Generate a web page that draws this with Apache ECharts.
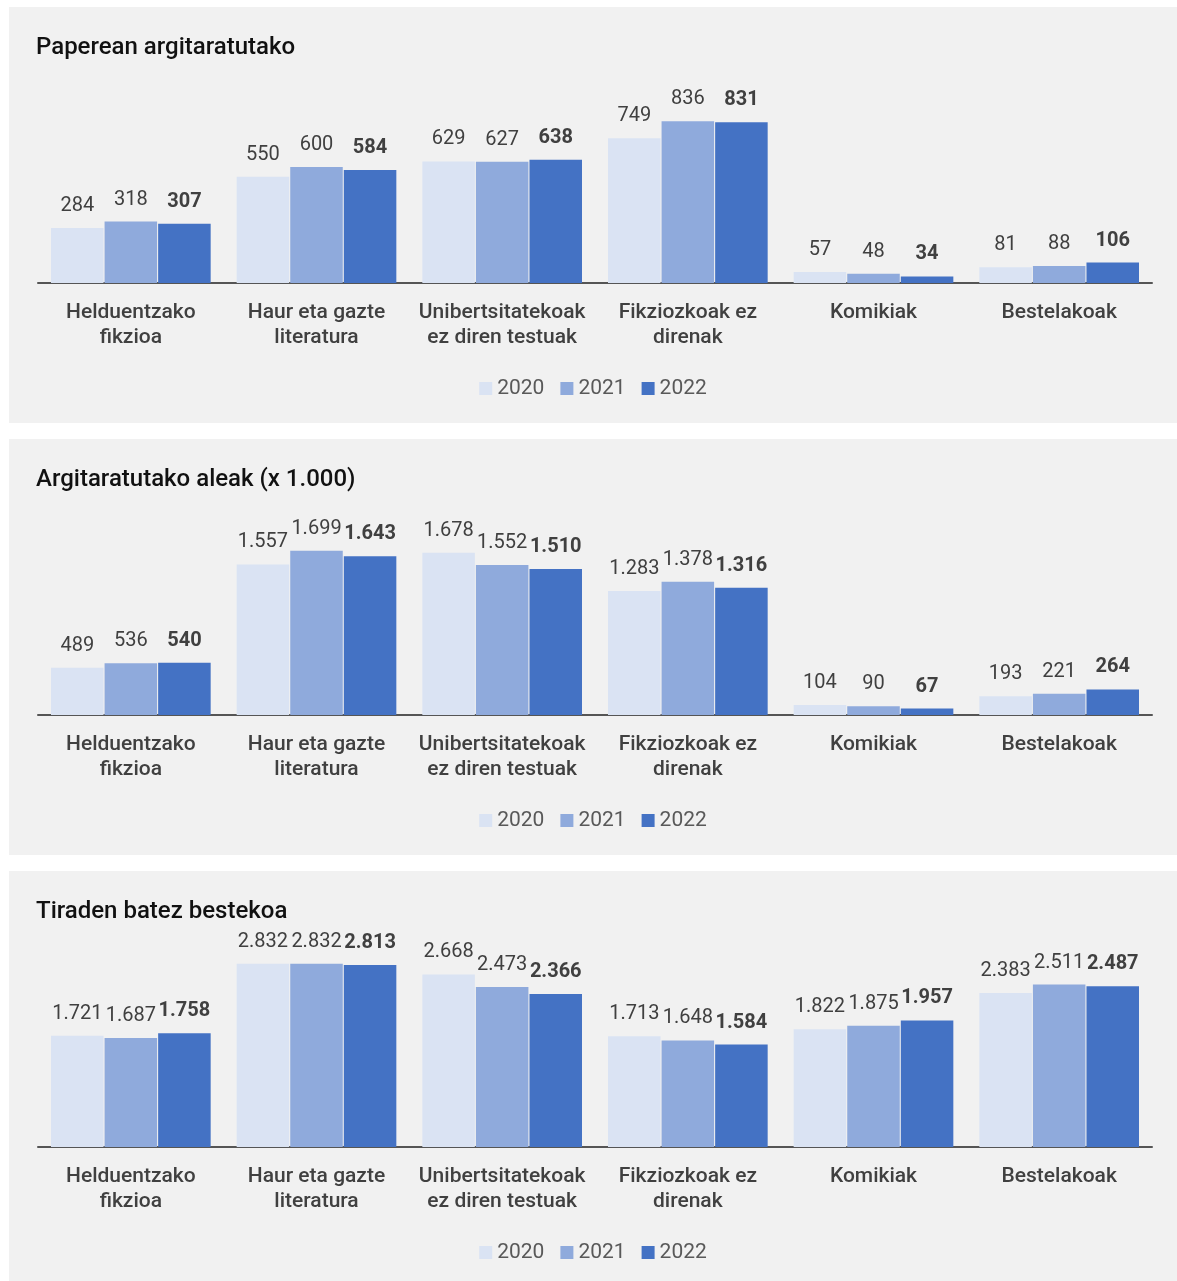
<!DOCTYPE html>
<html><head><meta charset="utf-8">
<script src="https://cdn.jsdelivr.net/npm/echarts@6/dist/echarts.min.js"></script>
<style>
html,body{margin:0;padding:0;background:#fff;width:1177px;height:1281px;overflow:hidden;font-family:Roboto,sans-serif;}
.p{position:absolute;left:9px;width:1168px;background:#f1f1f1;}
</style></head><body>
<div id="c1" class="p" style="top:7px;height:416px"></div>
<div id="c2" class="p" style="top:439px;height:416px"></div>
<div id="c3" class="p" style="top:871px;height:410px"></div>
<script>
const categories = ['Helduentzako\nfikzioa','Haur eta gazte\nliteratura','Unibertsitatekoak\nez diren testuak','Fikziozkoak ez\ndirenak','Komikiak','Bestelakoak'];
const years = ['2020','2021','2022'];
const titles = ['Paperean argitaratutako','Argitaratutako aleak (x 1.000)','Tiraden batez bestekoa'];
const paper2020 = [284,550,629,749,57,81];
const paper2021 = [318,600,627,836,48,88];
const paper2022 = [307,584,638,831,34,106];
const aleak2020 = [489,1557,1678,1283,104,193];
const aleak2021 = [536,1699,1552,1378,90,221];
const aleak2022 = [540,1643,1510,1316,67,264];
const tirada2020 = [1721,2832,2668,1713,1822,2383];
const tirada2021 = [1687,2832,2473,1648,1875,2511];
const tirada2022 = [1758,2813,2366,1584,1957,2487];
const colors = ['#dae3f3','#8faadc','#4472c4'];

function fmt(v){ return String(v).replace(/\B(?=(\d{3})+(?!\d))/g,'.'); }

function make(id, title, data, max, top){
  const ch = echarts.init(document.getElementById(id), null, {renderer:'canvas'});
  ch.setOption({
    backgroundColor:'#f1f1f1',
    animation:false,
    textStyle:{fontFamily:'Roboto'},
    title:{text:title,left:27,top:29,padding:0,textStyle:{fontSize:24,fontWeight:500,color:'#111',fontFamily:'Roboto'}},
    legend:{data:years,top:366,left:'center',itemWidth:13,itemHeight:13,itemGap:16,icon:'rect',
      textStyle:{fontSize:21,color:'#595959',fontFamily:'Roboto'}},
    grid:{left:29,right:25,top:top,height:276-top},
    xAxis:{type:'category',data:categories,axisTick:{show:false},
      axisLine:{lineStyle:{color:'#555',width:2}},
      axisLabel:{interval:0,fontSize:21,fontWeight:500,color:'#404040',lineHeight:25,margin:17,fontFamily:'Roboto'}},
    yAxis:{type:'value',min:0,max:max,show:false,splitLine:{show:false}},
    series: data.map((d,i)=>({
      name:years[i],type:'bar',data:d,barGap:'2%',barCategoryGap:'14%',
      itemStyle:{color:colors[i]},
      label:{show:true,position:'top',distance:12,fontSize:20,color:'#404040',fontFamily:'Roboto',
        fontWeight: i===2?'bold':'normal', formatter:p=>fmt(p.value)}
    }))
  });
}
make('c1', titles[0], [paper2020,paper2021,paper2022], 900, 102);
make('c2', titles[1], [aleak2020,aleak2021,aleak2022], 1800, 102);
make('c3', titles[2], [tirada2020,tirada2021,tirada2022], 3000, 82);
</script></body></html>
